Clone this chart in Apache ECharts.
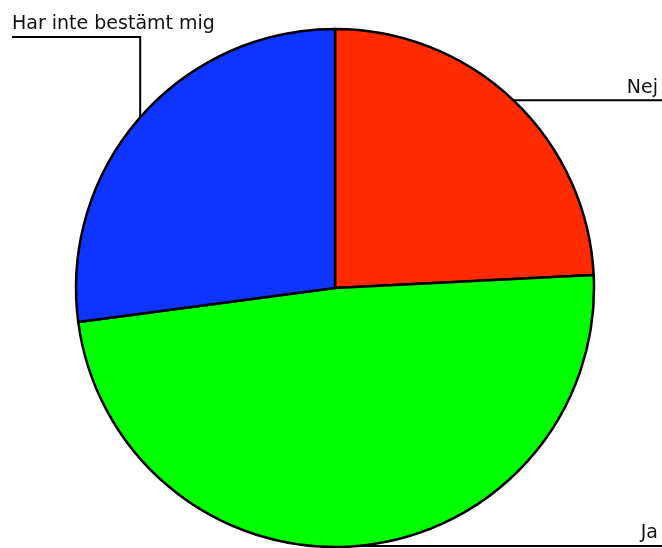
<!DOCTYPE html>
<html>
<head>
<meta charset="utf-8">
<script src="https://cdn.jsdelivr.net/npm/echarts@6/dist/echarts.min.js"></script>
<style>
html,body{margin:0;padding:0;background:#fff;}
#c{width:662px;height:548px;}
</style>
</head>
<body>
<div id="c"></div>
<script>
const categories = ['Nej', 'Ja', 'Har inte bestämt mig'];
const values = [24.2, 48.7, 27.1];
const colors = ['#ff2a00', '#00ff00', '#1034ff'];

const chart = echarts.init(document.getElementById('c'), null, {renderer: 'canvas'});
const data = categories.map((name, i) => ({name: name, value: values[i], itemStyle: {color: colors[i]}}));

chart.setOption({
  animation: false,
  backgroundColor: '#ffffff',
  series: [{
    type: 'pie',
    center: [335, 288],
    radius: 259,
    startAngle: 90,
    clockwise: true,
    data: data,
    itemStyle: {borderColor: '#000', borderWidth: 2.5},
    emphasis: {disabled: true},
    label: {
      show: true,
      position: 'outside',
      formatter: '{b}',
      color: '#111',
      fontFamily: 'DejaVu Sans',
      fontSize: 19,
      overflow: 'none',
      width: 300
    },
    labelLine: {show: true, length: 10, length2: 10, lineStyle: {color: '#000', width: 2}},
    labelLayout: function (params) {
      const pts = params.labelLinePoints;
      if (!pts) return {};
      const p0 = pts[0];
      const w = chart.getWidth();
      if (params.dataIndex === 2) {
        const ly = 37;
        return {
          x: 12, y: ly - 3, align: 'left', verticalAlign: 'bottom', fontSize: 19,
          labelLinePoints: [p0, [p0[0], ly], [12, ly]]
        };
      }
      const ry = Math.min(p0[1], chart.getHeight() - 1);
      return {
        x: w - 4, y: ry - 3, align: 'right', verticalAlign: 'bottom', fontSize: 19,
        labelLinePoints: [p0, [(p0[0] + w) / 2, ry], [w, ry]]
      };
    }
  }]
});
</script>
</body>
</html>
